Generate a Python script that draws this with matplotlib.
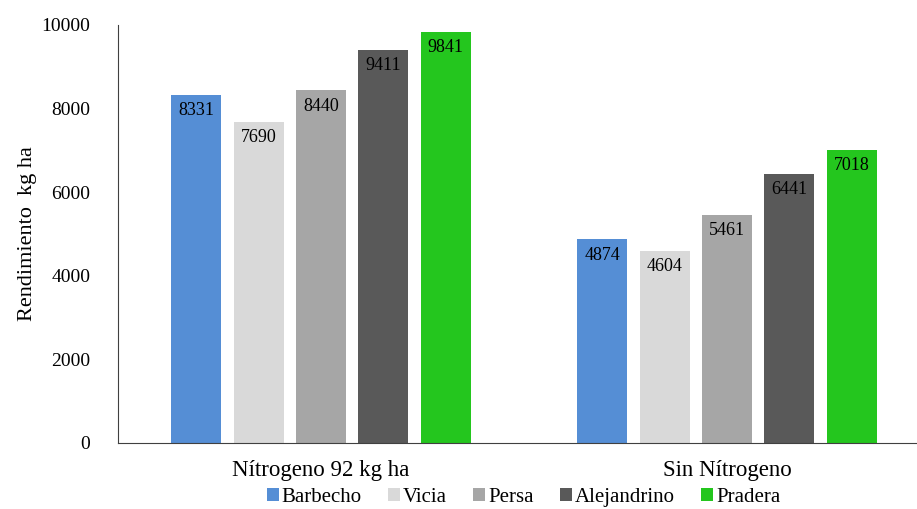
import numpy as np
import matplotlib.pyplot as plt
from matplotlib.patches import Patch

plt.rcParams['font.family'] = ['Liberation Serif', 'DejaVu Serif']

grupos = ['Nítrogeno 92 kg ha', 'Sin Nítrogeno']
cultivos = ['Barbecho', 'Vicia', 'Persa', 'Alejandrino', 'Pradera']
rendimiento = {
    'Barbecho': [8331, 4874],
    'Vicia': [7690, 4604],
    'Persa': [8440, 5461],
    'Alejandrino': [9411, 6441],
    'Pradera': [9841, 7018],
}
colores = ['#558ED5', '#D9D9D9', '#A6A6A6', '#595959', '#24C61E']

fig = plt.figure(figsize=(9.17, 5.09), dpi=100)
ax = fig.add_axes([0.1287, 0.1297, 0.8713, 0.8213])

x = np.arange(len(grupos))
ancho = 0.123
paso = 0.1535
for i, (c, col) in enumerate(zip(cultivos, colores)):
    pos = x + (i - 2) * paso
    barras = ax.bar(pos, rendimiento[c], width=ancho, color=col)
    for b, v in zip(barras, rendimiento[c]):
        ax.text(b.get_x() + b.get_width() / 2, v - 380, str(v),
                ha='center', va='center', fontsize=13, color='black')

ax.set_xlim(-0.5, 1.468)
ax.set_ylim(0, 10000)
ax.set_yticks(range(0, 10001, 2000))
ax.set_xticks(x)
ax.set_xticklabels(grupos, fontsize=16.5)
ax.tick_params(axis='y', labelsize=14, length=0, pad=20)
ax.tick_params(axis='x', length=0, pad=12)
ax.spines['top'].set_visible(False)
ax.spines['right'].set_visible(False)
ax.spines['left'].set_color('#404040')
ax.spines['bottom'].set_color('#404040')
ax.set_ylabel('Rendimiento  kg ha', fontsize=16, labelpad=3)

handles = [Patch(facecolor=col, label=c) for c, col in zip(cultivos, colores)]
fig.legend(handles=handles, loc='center', bbox_to_anchor=(0.571, 0.022), ncol=5,
           frameon=False, fontsize=15, handlelength=0.58, handleheight=0.58,
           handletextpad=0.15, columnspacing=1.25)

fig.savefig('out.png', dpi=100)
